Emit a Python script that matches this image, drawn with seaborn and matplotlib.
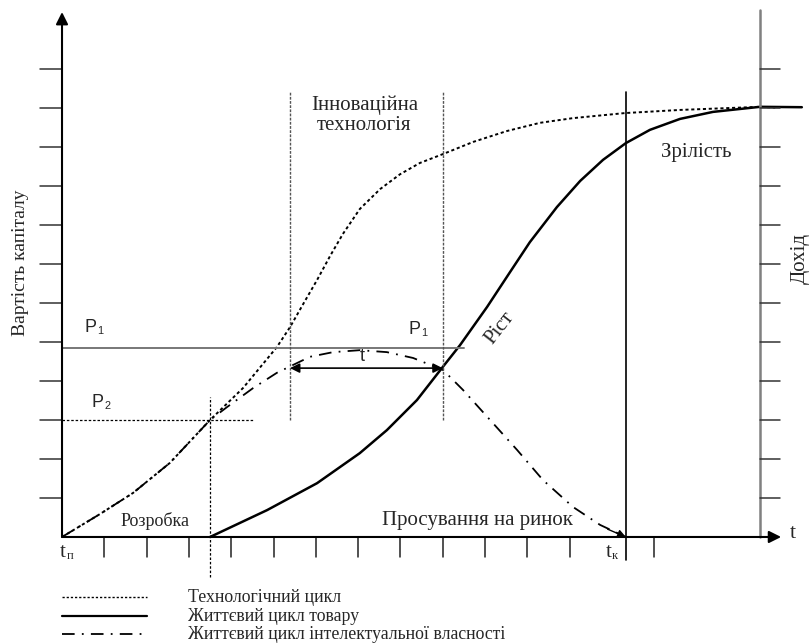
import numpy as np
import pandas as pd
import matplotlib.pyplot as plt
import seaborn as sns

# curve values (x: time periods, y: capital value units)
tech_x = [0, 0.90, 1.68, 2.55, 3.50, 4.28, 5.08, 5.39, 5.70, 6.03, 6.34, 6.64, 7.04,
          7.52, 7.99, 8.46, 9.01, 9.72, 10.52, 11.30, 12.08, 13.31, 14.61, 16.50, 16.86]
tech_y = [0, 0.59, 1.13, 1.90, 3.00, 3.82, 4.87, 5.38, 5.97, 6.59, 7.21, 7.77, 8.41,
          8.92, 9.30, 9.59, 9.82, 10.13, 10.41, 10.62, 10.74, 10.87, 10.95, 11.03, 11.01]

prod_x = [3.50, 4.85, 6.03, 7.04, 7.68, 8.39, 8.98, 9.41, 10.05, 10.59, 11.06, 11.70,
          12.25, 12.79, 13.33, 13.90, 14.61, 15.39, 16.50, 17.49]
prod_y = [0, 0.69, 1.38, 2.15, 2.74, 3.51, 4.33, 4.92, 5.90, 6.79, 7.56, 8.46,
          9.13, 9.67, 10.10, 10.44, 10.72, 10.90, 11.03, 11.02]

ip_x = [0, 0.90, 1.68, 2.55, 3.50, 3.90, 4.52, 5.08, 5.86, 6.41, 7.04, 7.68, 8.30,
        9.01, 9.48, 10.12, 10.76, 11.37, 12.08, 12.72, 13.33]
ip_y = [0, 0.59, 1.13, 1.90, 3.00, 3.33, 3.82, 4.21, 4.62, 4.74, 4.79, 4.74, 4.59,
        4.28, 3.77, 3.00, 2.23, 1.46, 0.77, 0.31, 0]

y_ticks = list(range(1, 13))
x_ticks = [1, 2, 3, 4, 5, 6, 7, 8, 9, 10, 11, 12, 14]

p1_level = 4.85
p2_level = 3.0
t_start_dev = 3.5      # end of development
innov_start = 5.39
innov_end = 9.0
t_end = 13.33          # t_k
x_right = 16.5         # income axis
x_arrow = 17.0
y_arrow = 13.46

legend_labels = ['Технологічний цикл', 'Життєвий цикл товару',
                 'Життєвий цикл інтелектуальної власності']

sns.set_theme(style='white')
plt.rcParams['font.family'] = ['Liberation Serif', 'DejaVu Serif']

fig = plt.figure(figsize=(8.1, 6.44), dpi=100)
ax = fig.add_axes([0, 0, 1, 1])
ax.set_xlim(-1.466, 17.683)
ax.set_ylim(-2.744, 13.769)
ax.axis('off')

dotted = (0, (1.6, 1.4))
dashdot = (0, (7, 4, 1, 4))

df = pd.concat([
    pd.DataFrame({'x': tech_x, 'y': tech_y, 'cycle': legend_labels[0]}),
    pd.DataFrame({'x': prod_x, 'y': prod_y, 'cycle': legend_labels[1]}),
    pd.DataFrame({'x': ip_x, 'y': ip_y, 'cycle': legend_labels[2]}),
])
styles = {legend_labels[0]: (dotted, 1.4), legend_labels[1]: ('-', 1.8),
          legend_labels[2]: (dashdot, 1.3)}
for name, grp in df.groupby('cycle', sort=False):
    ls, lw = styles[name]
    sns.lineplot(data=grp, x='x', y='y', ax=ax, color='black', linestyle=ls,
                 linewidth=lw, estimator=None, sort=False, legend=False)

# axes
arr = dict(arrowstyle='-|>', color='black', lw=1.5, shrinkA=0, shrinkB=0, mutation_scale=18)
ax.annotate('', xy=(0, y_arrow), xytext=(0, 0), arrowprops=arr)
ax.annotate('', xy=(x_arrow, 0), xytext=(0, 0), arrowprops=arr)
ax.plot([x_right, x_right], [0, 13.5], color='#808080', lw=1.8)
for yt in y_ticks:
    ax.plot([-0.52, 0], [yt, yt], color='#333333', lw=1.1)
    ax.plot([x_right, 16.97], [yt, yt], color='#333333', lw=1.1)
for xt in x_ticks:
    ax.plot([xt, xt], [0, -0.51], color='#222222', lw=1.1)

# guide lines
ax.plot([0, 9.5], [p1_level, p1_level], color='#777777', lw=1.4)
ax.plot([0, 4.52], [p2_level, p2_level], color='black', lw=0.9, linestyle=(0, (2, 1.5)))
ax.plot([t_start_dev, t_start_dev], [-1.03, 3.59], color='black', lw=0.9, linestyle=(0, (2, 1.5)))
for xv in [innov_start, innov_end]:
    ax.plot([xv, xv], [3.0, 11.41], color='#555555', lw=1.0, linestyle=(0, (2, 1)))
ax.plot([t_end, t_end], [-0.59, 11.41], color='black', lw=1.2)

# arrows on IP curve
ax.annotate('', xy=(5.39, 4.33), xytext=(9.0, 4.33),
            arrowprops=dict(arrowstyle='<|-|>', color='black', lw=1.2,
                            shrinkA=0, shrinkB=0, mutation_scale=14))
ax.annotate('', xy=(13.33, 0), xytext=(12.9, 0.2),
            arrowprops=dict(arrowstyle='-|>', color='black', lw=1.0,
                            shrinkA=0, shrinkB=0, mutation_scale=12))

# texts
sans = ['Liberation Sans', 'DejaVu Sans']


def sub_text(x, y, main, sub, size, family):
    t = ax.text(x, y, main, fontsize=size, family=family, ha='left', va='center')
    ax.annotate(sub, xy=(1, 0), xycoords=t, xytext=(0.5, 0), textcoords='offset points',
                fontsize=size * 0.6, family=family, ha='left', va='bottom')


sub_text(0.53, 5.36, 'P', '1', 13, sans)
sub_text(8.2, 5.33, 'P', '1', 13, sans)
sub_text(0.70, 3.46, 'P', '2', 13, sans)
sub_text(-0.05, -0.41, 't', 'п', 15, plt.rcParams['font.family'])
sub_text(12.85, -0.41, 't', 'к', 15, plt.rcParams['font.family'])
ax.text(17.28, 0.08, 't', fontsize=16, ha='center', va='center')
ax.text(7.09, 4.62, 't', fontsize=13, family=sans, ha='center', va='center')

ax.text(2.2, 0.40, 'Розробка', fontsize=13, ha='center', va='center')
ax.text(9.83, 0.42, 'Просування на ринок', fontsize=15, ha='center', va='center')
ax.text(14.99, 9.87, 'Зрілість', fontsize=15, ha='center', va='center')
ax.text(7.15, 10.82, 'Інноваційна\nтехнологія', fontsize=15, ha='center', va='center',
        linespacing=1.05)
ax.text(10.35, 5.36, 'Ріст', fontsize=15, ha='center', va='center', rotation=52)
ax.text(-0.99, 7.03, 'Вартість капіталу', fontsize=14, ha='center', va='center', rotation=90)
ax.text(17.45, 7.15, 'Дохід', fontsize=15, ha='center', va='center', rotation=90)

# legend drawn as lines + labels
leg_y = [-1.54, -2.03, -2.49]
leg_styles = [(dotted, 1.0), ('-', 1.6), (dashdot, 1.3)]
for yy, (ls, lw), lab in zip(leg_y, leg_styles, legend_labels):
    ax.plot([0, 2.01], [yy, yy], color='black', linestyle=ls, lw=lw)
    ax.text(2.98, yy, lab, fontsize=12.8, ha='left', va='center')

fig.savefig('out.png', dpi=100)
